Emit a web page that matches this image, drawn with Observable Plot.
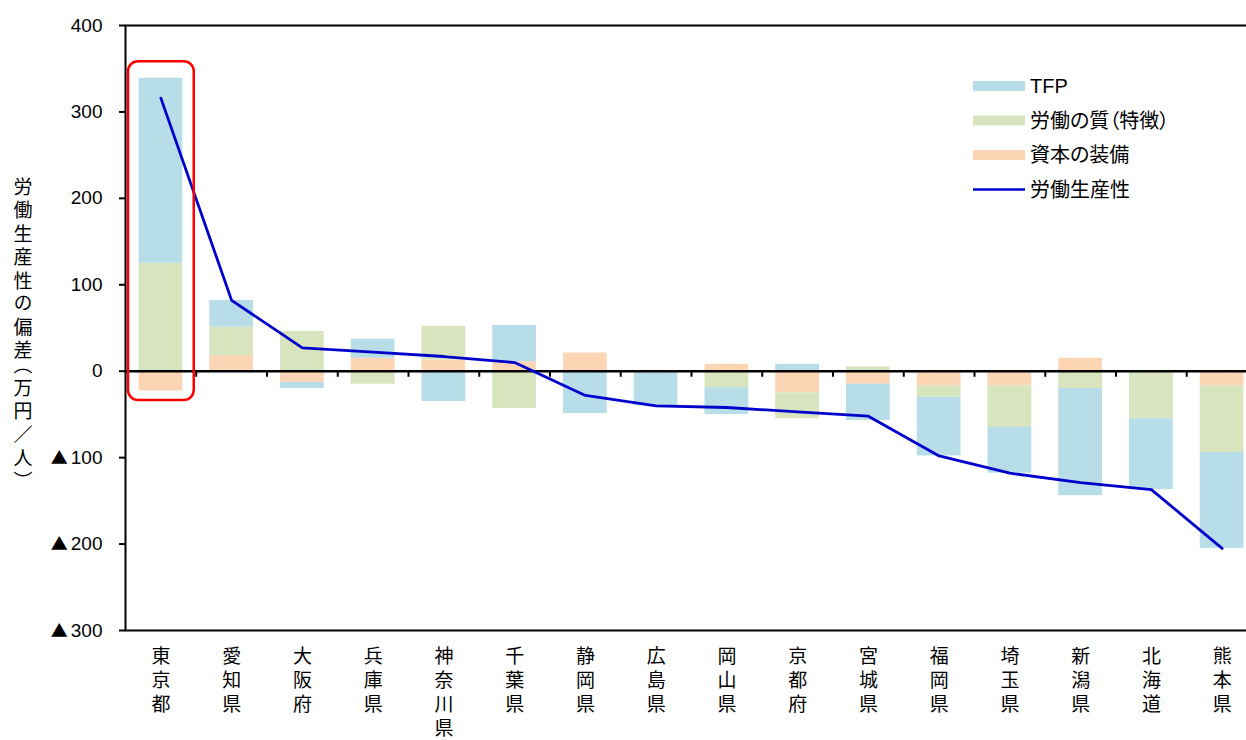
<!DOCTYPE html>
<html><head><meta charset="utf-8">
<script src="https://cdn.jsdelivr.net/npm/d3@7"></script>
<script src="https://cdn.jsdelivr.net/npm/@observablehq/plot@0.6"></script>
<style>
body{margin:0;background:#fff;}
#chart{position:relative;width:1246px;height:740px;overflow:hidden;}
</style></head><body><div id="chart"></div>
<script>
const categories = ["東京都","愛知県","大阪府","兵庫県","神奈川県","千葉県","静岡県","広島県","岡山県","京都府","宮城県","福岡県","埼玉県","新潟県","北海道","熊本県"];
const tfp          = [214, 31, -7, 22, -35, 42, -49, -40, -31,   8, -42, -68, -53, -124, -82, -111];
const quality      = [125, 33, 46, -15, 39, -43,   0,   0, -19, -30,   5, -13, -48,  -20, -55,  -77];
const capital      = [-23, 18, -13, 15, 13, 11,  21,   0,   8, -25, -15, -17, -17,   15,   0,  -17];
const productivity = [316, 82, 27, 22, 17, 10, -28, -40, -42, -47, -52, -98, -118, -129, -137, -205];
const seriesNames  = ["資本の装備","労働の質（特徴）","TFP"];
const seriesColors = ["#FCD5B5","#D7E4BD","#B7DDE8"];
const lineName = "労働生産性";
const lineColor = "#0000CC";
const legendOrder = ["TFP","労働の質（特徴）","資本の装備"];
const yTicks = [-300,-200,-100,0,100,200,300,400];
const yTitle = "労働生産性の偏差（万円／人）";
const highlightCat = "東京都";
const highlightRange = [-34, 358];

const rows = [];
categories.forEach((c,i)=>{
  rows.push({cat:c, series:seriesNames[0], value:capital[i]});
  rows.push({cat:c, series:seriesNames[1], value:quality[i]});
  rows.push({cat:c, series:seriesNames[2], value:tfp[i]});
});
const lineRows = categories.map((c,i)=>({cat:c, value:productivity[i]}));
const highlight = [{cat:highlightCat, y1:highlightRange[0], y2:highlightRange[1]}];
const boundaries = categories.slice(1);

const font = '"Liberation Sans","Noto Sans CJK JP",sans-serif';
const W = 1246, ML = 125, MR = -11;
const step = (W - MR - ML) / categories.length;

const plot = Plot.plot({
  width:W, height:740,
  marginLeft:ML, marginRight:MR, marginTop:25, marginBottom:110,
  style:{fontFamily:font, fontSize:"19px", color:"#000", background:"#fff", overflow:"hidden"},
  x:{domain:categories, padding:0, round:false},
  y:{domain:[-300,400]},
  color:{domain:seriesNames, range:seriesColors},
  marks:[
    Plot.barY(rows,{x:"cat", y:"value", fill:"series", insetLeft:13.5, insetRight:13.5}),
    Plot.ruleY([0],{stroke:"#000", strokeWidth:2.5}),
    Plot.ruleX(boundaries,{x:d=>d, y1:0, y2:-7, dx:-step/2, stroke:"#000", strokeWidth:2}),
    Plot.lineY(lineRows,{x:"cat", y:"value", stroke:lineColor, strokeWidth:2.8}),
    Plot.barY(highlight,{x:"cat", y1:"y1", y2:"y2", fill:"none", stroke:"#FF0000", strokeWidth:2.5, insetLeft:3, insetRight:2, rx:10}),
    Plot.frame({stroke:"#000", strokeWidth:2}),
    Plot.axisY({ticks:yTicks, tickSize:6, tickPadding:17, tickFormat:d=>d<0?"▲"+(-d):String(d), fontSize:19, stroke:"#000", strokeWidth:2, label:null}),
    Plot.axisX({tickSize:0, tickPadding:15, tickFormat:d=>d.split("").join("\n"), lineHeight:1.27, lineAnchor:"top", fontSize:19, label:null})
  ]
});
document.getElementById("chart").appendChild(plot);

const svg = d3.select(plot);
// larger triangle glyph for negative tick labels
svg.selectAll("text").each(function(){
  const t = d3.select(this);
  const s = this.textContent;
  if (s.startsWith("▲") && this.childElementCount === 0) {
    t.text(null);
    t.append("tspan").style("font-family",'"Noto Sans CJK JP"').style("font-size","17px").text("▲");
    t.append("tspan").attr("dx",3).text(s.slice(1));
  }
});

svg.append("text")
  .attr("x",21).attr("y",177)
  .attr("text-anchor","start")
  .attr("font-size",19)
  .attr("fill","#000")
  .style("writing-mode","vertical-rl")
  .style("font-feature-settings","'vpal'")
  .style("letter-spacing","4.5px")
  .text(yTitle);

const lg = svg.append("g").attr("font-size",20).attr("fill","#000").attr("text-anchor","start");
const legendItems = legendOrder.map(n=>({name:n, color:seriesColors[seriesNames.indexOf(n)], type:"rect"}))
  .concat([{name:lineName, color:lineColor, type:"line"}]);
legendItems.forEach((it,i)=>{
  const cy = 86 + i*34.5;
  if (it.type==="rect") {
    lg.append("rect").attr("x",973).attr("y",cy-5).attr("width",52).attr("height",10).attr("fill",it.color);
  } else {
    lg.append("line").attr("x1",973).attr("x2",1025).attr("y1",cy).attr("y2",cy).attr("stroke",it.color).attr("stroke-width",2.5);
  }
  lg.append("text").attr("x",1030).attr("y",cy).attr("dy","0.35em").attr("text-anchor","start")
    .style("font-feature-settings","'palt'").text(it.name);
});
</script>
</body></html>
